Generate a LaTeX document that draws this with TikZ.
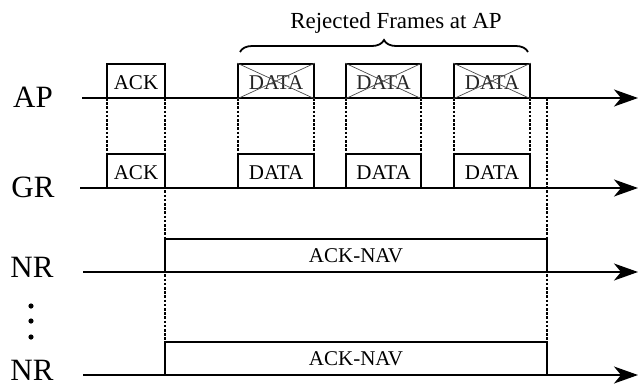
\documentclass[tikz,border=0pt]{standalone}
\usepackage{fontspec}
\setmainfont{Liberation Serif}
\usetikzlibrary{arrows.meta,decorations.pathreplacing}

\tikzset{
  frame/.style={draw, line width=1.8pt, fill=white, rectangle, inner sep=0pt,
                font=\fontsize{21}{25}\selectfont},
  axis/.style={line width=1.6pt, -{Stealth[length=24pt,width=17pt,inset=7pt]}},
  guide/.style={line width=1.2pt, dash pattern=on 2.6pt off 1.6pt},
  crossout/.style={line width=0.7pt, black!70},
  rowlabel/.style={anchor=base, inner sep=0pt, font=\fontsize{31}{35}\selectfont},
}

% draws a frame whose corners are given in picture units
\newcommand{\frm}[5]{%
  \node[frame, minimum width=#3-#2, minimum height=#5-#4] (#1)
    at ({(#2+#3)/2},{(#4+#5)/2}) {};}

\begin{document}
\begin{tikzpicture}[x=1pt,y=-1pt]
  \useasboundingbox (0,0) rectangle (640,383);

  % time axes
  \coordinate (apS) at (82,98);   \coordinate (apE) at (638,98);
  \coordinate (grS) at (80,188);  \coordinate (grE) at (638,188);
  \coordinate (nrS) at (83,272);  \coordinate (nrE) at (638,272);
  \coordinate (nqS) at (83,375);  \coordinate (nqE) at (638,375);
  \coordinate (navEnd) at (547,98);

  \draw[axis] (apS) -- (apE);
  \draw[axis] (grS) -- (grE);
  \draw[axis] (nrS) -- (nrE);
  \draw[axis] (nqS) -- (nqE);

  % row labels
  \node[rowlabel] (lAP) at (33,107) {AP};
  \node[rowlabel] (lGR) at (33,197) {GR};
  \node[rowlabel] (lNR) at (32,277) {NR};
  \node[rowlabel] (lNQ) at (32,380) {NR};
  \foreach \yy [count=\i] in {306,321,337}
    \fill (31,\yy) circle (2.6pt) coordinate (dot\i);

  % frame geometry (boxes are placed later, over the guides)
  \coordinate (a1) at (107,98);  \coordinate (a2) at (165,98);
  \coordinate (d1a) at (238,98); \coordinate (d1b) at (314,98);
  \coordinate (d2a) at (346,98); \coordinate (d2b) at (421,98);
  \coordinate (d3a) at (454,98); \coordinate (d3b) at (530,98);

  % dashed alignment guides
  \draw[guide] (a1) -- (107,154);
  \draw[guide] (a2) -- (165,342);
  \draw[guide] (d1a) -- (238,154);
  \draw[guide] (d1b) -- (314,154);
  \draw[guide] (d2a) -- (346,154);
  \draw[guide] (d2b) -- (421,154);
  \draw[guide] (d3a) -- (454,154);
  \draw[guide] (d3b) -- (530,154);
  \draw[guide] (navEnd) -- (547,342);

  % AP frames
  \frm{ackAP}{107}{165}{64}{98}
  \frm{dAP1}{238}{314}{64}{98}
  \frm{dAP2}{346}{421}{64}{98}
  \frm{dAP3}{454}{530}{64}{98}
  \node[font=\fontsize{21}{25}\selectfont, anchor=base] at (136,89) {ACK};
  \foreach \b in {dAP1,dAP2,dAP3}{
    \node[font=\fontsize{21}{25}\selectfont, anchor=base, text=black!85]
      at ([yshift=-8pt]\b.center) {DATA};
    \draw[crossout] (\b.north west) -- (\b.south east);
    \draw[crossout] (\b.south west) -- (\b.north east);
  }

  % GR frames
  \frm{ackGR}{107}{165}{154}{188}
  \frm{dGR1}{238}{314}{154}{188}
  \frm{dGR2}{346}{421}{154}{188}
  \frm{dGR3}{454}{530}{154}{188}
  \node[font=\fontsize{21}{25}\selectfont, anchor=base] at (ackGR.center) [yshift=-8pt] {ACK};
  \foreach \b in {dGR1,dGR2,dGR3}
    \node[font=\fontsize{21}{25}\selectfont, anchor=base] at ([yshift=-8pt]\b.center) {DATA};

  % NAV periods at the neighbouring receivers
  \frm{nav1}{165}{547}{239}{272}
  \frm{nav2}{165}{547}{342}{375}
  \foreach \b in {nav1,nav2}
    \node[font=\fontsize{21}{25}\selectfont, anchor=base] at ([yshift=-7pt]\b.center) {ACK-NAV};

  % brace over the rejected frames
  \coordinate (brL) at (240,52);
  \coordinate (brR) at (528,52);
  \draw[line width=1.8pt, decorate, decoration={brace, amplitude=12pt}] (brL) -- (brR);
  \node[anchor=base, font=\fontsize{23}{27}\selectfont] (title) at (396,28) {Rejected Frames at AP};
\end{tikzpicture}
\end{document}
